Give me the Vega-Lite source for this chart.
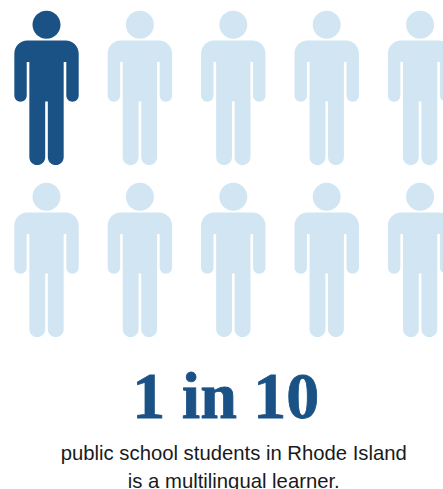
{"$schema":"https://vega.github.io/schema/vega-lite/v6.json","width":443,"height":489,"autosize":"none","padding":0,"background":"#ffffff","view":{"stroke":null},"config":{"view":{"stroke":null}},"datasets":{"people":[{"col":1,"row":1,"group":"multilingual"},{"col":2,"row":1,"group":"other"},{"col":3,"row":1,"group":"other"},{"col":4,"row":1,"group":"other"},{"col":5,"row":1,"group":"other"},{"col":1,"row":2,"group":"other"},{"col":2,"row":2,"group":"other"},{"col":3,"row":2,"group":"other"},{"col":4,"row":2,"group":"other"},{"col":5,"row":2,"group":"other"}],"headline":[{"col":2.92,"row":2.919,"label":"1 in 10"}],"caption":[{"col":3.005,"row":3.16,"label":"public school students in Rhode Island"},{"col":3.005,"row":3.325,"label":"is a multilingual learner."}]},"layer":[{"data":{"name":"people"},"mark":{"type":"point","filled":true,"opacity":1,"size":23716,"shape":"M-0.248 -0.618H0.248A0.17 0.17 0 0 1 0.418 -0.448V0.096A0.08 0.08 0 0 1 0.257 0.096V-0.338H0.223V0.897A0.103 0.103 0 0 1 0.017 0.897V0.174H-0.017V0.897A0.103 0.103 0 0 1 -0.223 0.897V-0.338H-0.257V0.096A0.08 0.08 0 0 1 -0.418 0.096V-0.448A0.17 0.17 0 0 1 -0.248 -0.618ZM-0.182 -0.822A0.182 0.182 0 1 1 0.182 -0.822A0.182 0.182 0 1 1 -0.182 -0.822Z"},"encoding":{"x":{"field":"col","type":"quantitative","scale":{"domain":[0.502,5.245]},"axis":null},"y":{"field":"row","type":"quantitative","scale":{"domain":[0.488,3.331],"reverse":true},"axis":null},"color":{"field":"group","type":"nominal","scale":{"domain":["multilingual","other"],"range":["#1a5286","#d1e5f3"]},"legend":null}}},{"data":{"name":"headline"},"mark":{"type":"text","font":"Liberation Serif","fontWeight":"bold","fontSize":66,"color":"#1a5286","stroke":"#1a5286","strokeWidth":0.8,"align":"center","baseline":"alphabetic"},"encoding":{"x":{"field":"col","type":"quantitative","scale":{"domain":[0.502,5.245]},"axis":null},"y":{"field":"row","type":"quantitative","scale":{"domain":[0.488,3.331],"reverse":true},"axis":null},"text":{"field":"label"}}},{"data":{"name":"caption"},"mark":{"type":"text","font":"Liberation Sans","fontSize":20.3,"color":"#1a1a1a","align":"center","baseline":"alphabetic"},"encoding":{"x":{"field":"col","type":"quantitative","scale":{"domain":[0.502,5.245]},"axis":null},"y":{"field":"row","type":"quantitative","scale":{"domain":[0.488,3.331],"reverse":true},"axis":null},"text":{"field":"label"}}}]}
